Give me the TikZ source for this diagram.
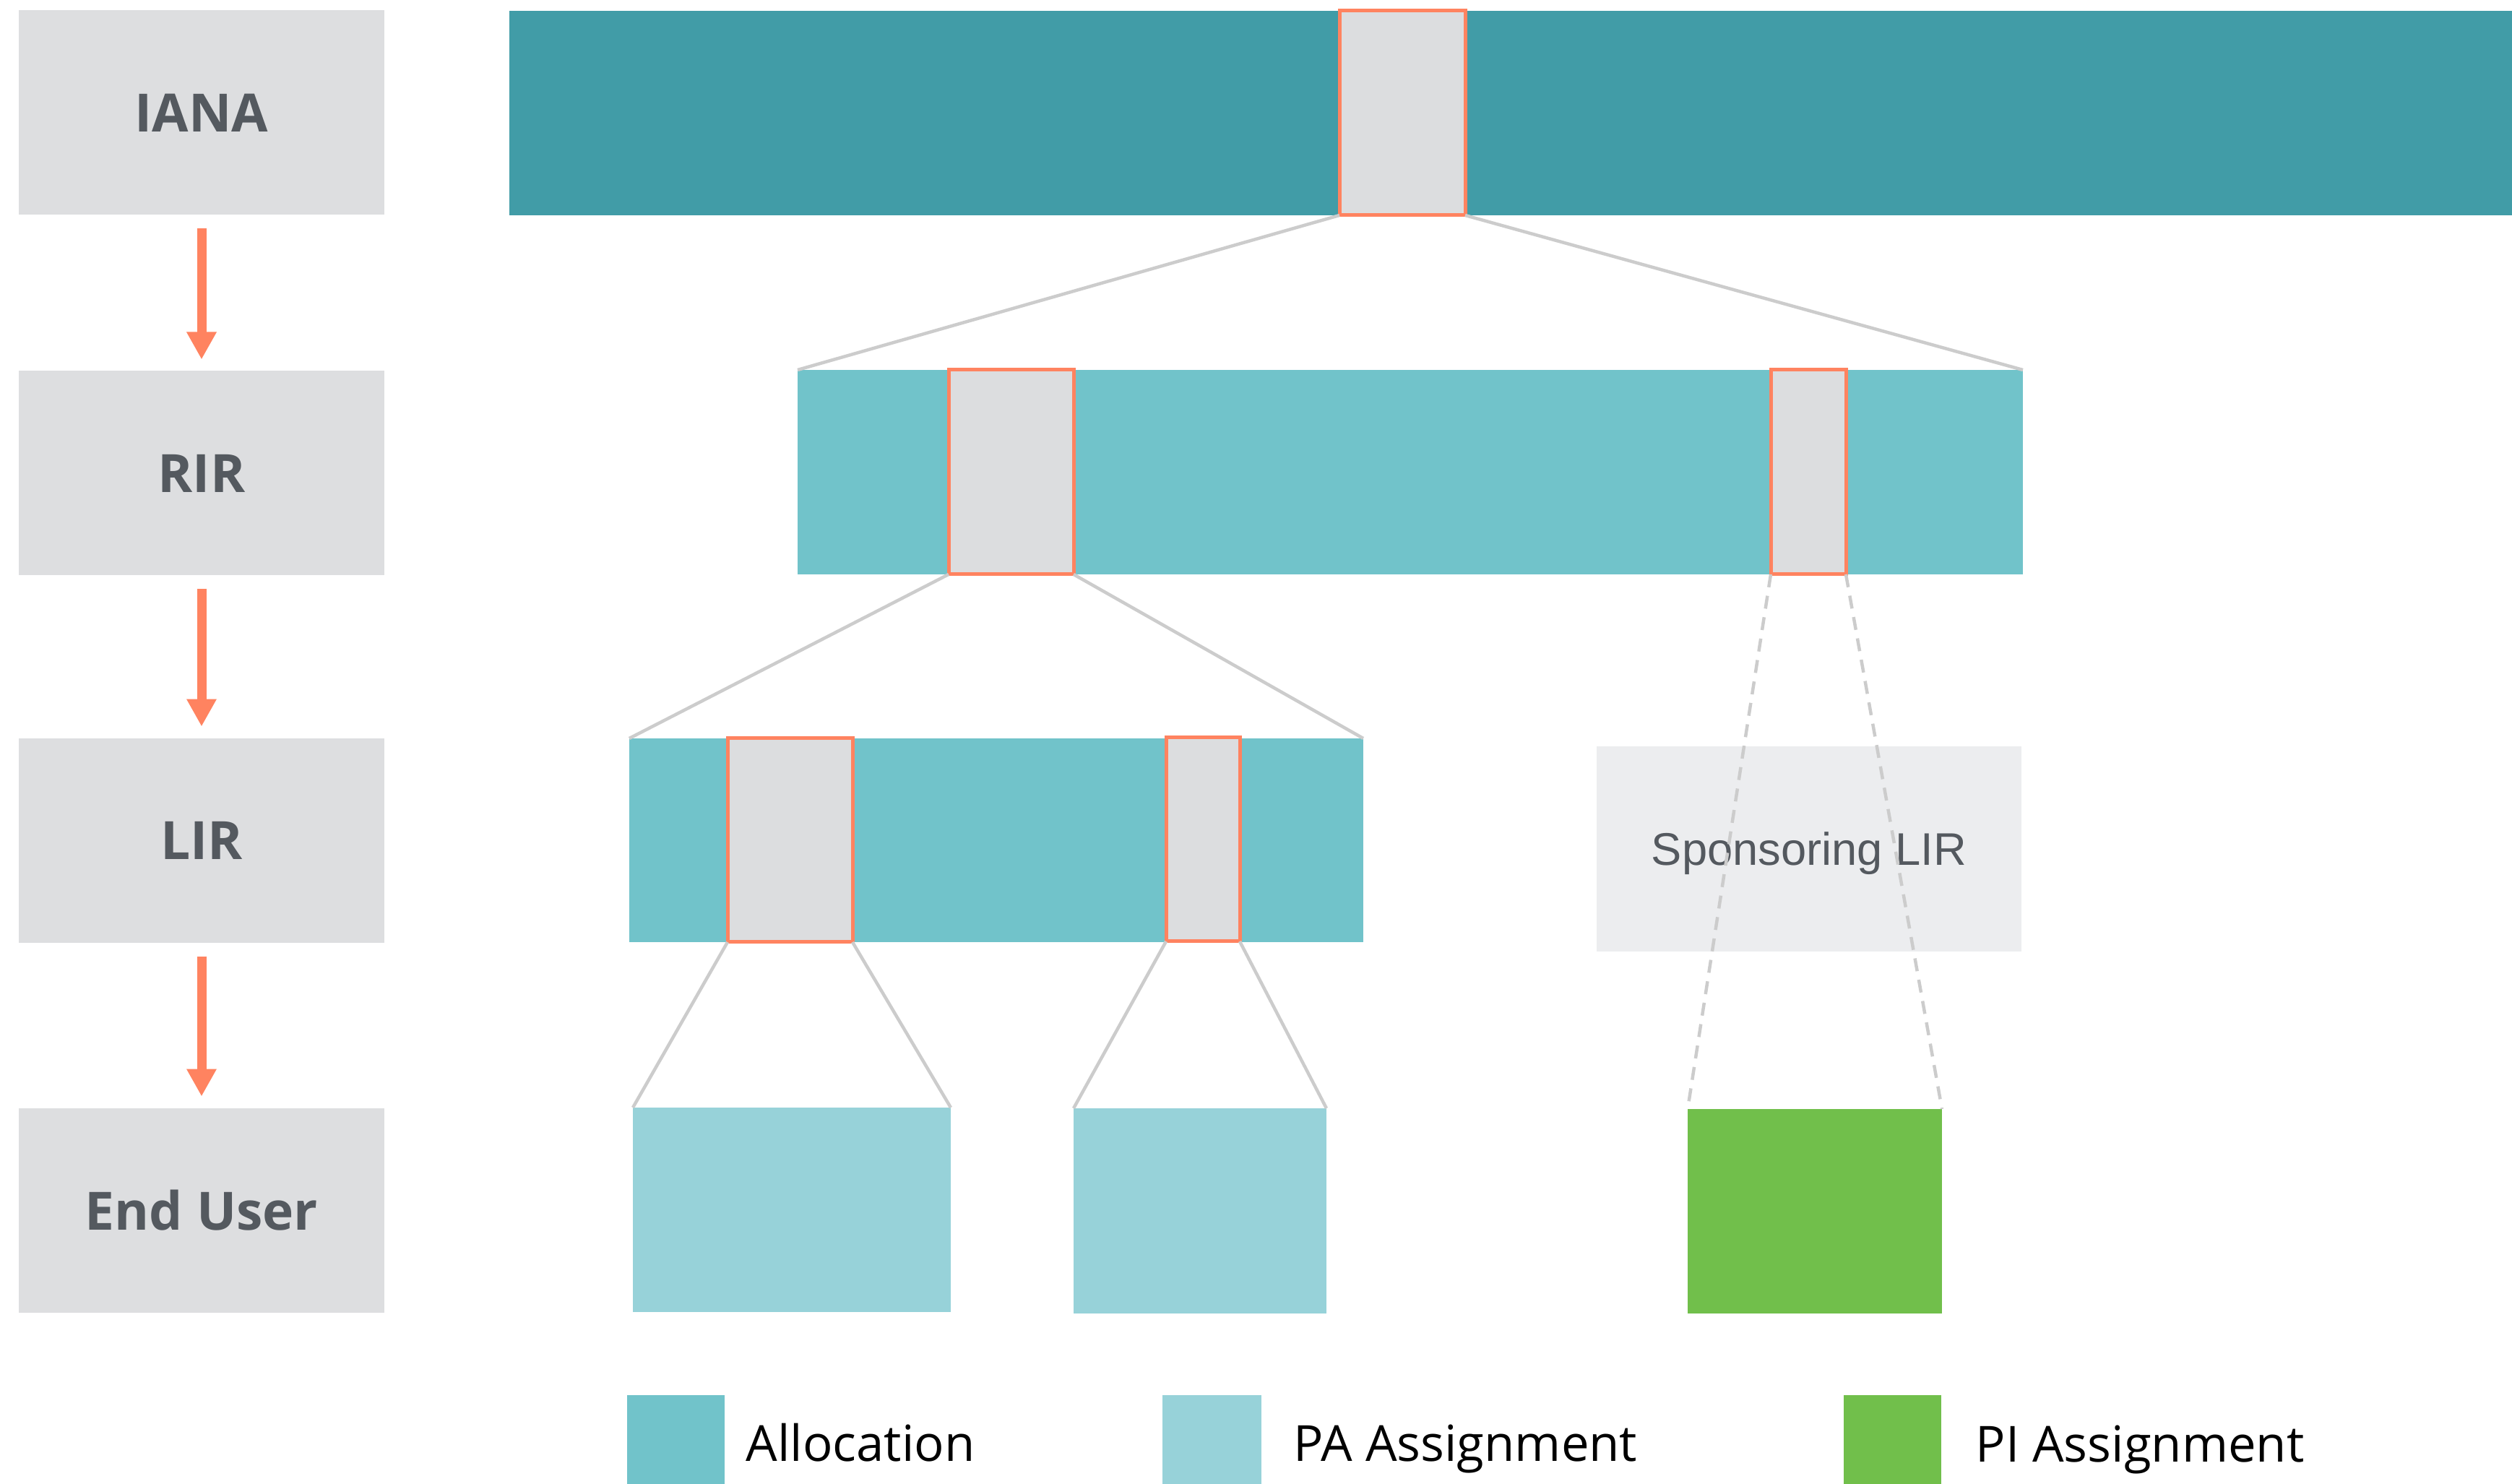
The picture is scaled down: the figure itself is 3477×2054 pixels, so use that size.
\documentclass[tikz,border=0pt]{standalone}
\usepackage{fontspec}
\setmainfont{Open Sans}
\newfontfamily\arialfont{Liberation Sans}
\usetikzlibrary{arrows.meta}
\definecolor{labelgray}{HTML}{DDDEE0}
\definecolor{labeltext}{HTML}{54595F}
\definecolor{ianateal}{HTML}{419CA7}
\definecolor{alloc}{HTML}{71C3CA}
\definecolor{paassign}{HTML}{97D2D9}
\definecolor{piassign}{HTML}{71BF4B}
\definecolor{blockgray}{HTML}{DCDDDF}
\definecolor{hlorange}{HTML}{FF8360}
\definecolor{fangray}{HTML}{CCCCCC}
\definecolor{sponsorgray}{HTML}{ECEDEF}

\begin{document}
\begin{tikzpicture}[x=.1mm, y=-.1mm,
		tier/.style={fill=labelgray, text=labeltext, font=\fontsize{20.8pt}{24pt}\selectfont\bfseries, text depth=0pt, minimum width=50.6mm, minimum height=28.3mm, inner sep=0pt, outer sep=0pt},
		bar/.style={anchor=north west, minimum height=28.3mm, inner sep=0pt, outer sep=0pt},
		pickbox/.style={bar, fill=blockgray, draw=hlorange, line width=.5mm},
		downarrow/.style={draw=hlorange, line width=1.3mm, -{Triangle[width=3.9mm, length=3.8mm]}, shorten <=1.9mm, shorten >=1.6mm},
		fanline/.style={draw=fangray, line width=.45mm},
		legendtext/.style={anchor=base west, inner sep=0pt, font=\fontsize{19.6pt}{24pt}\selectfont}]
				\useasboundingbox (0,0) rectangle (3477,2054);
				\node[tier] (iana) at (279,156) {IANA};
				\node[tier] (rir) at (279,655) {RIR};
				\node[tier] (lir) at (279,1163) {LIR};
				\node[tier] (enduser) at (279,1675) {End User};
				\foreach \a/\b in {iana/rir, rir/lir, lir/enduser}
					\draw[downarrow] (\a) -- (\b);
				\node[bar, fill=ianateal, minimum width=277.2mm] (ianabar) at (705,15) {};
				\node[bar, fill=alloc, minimum width=169.6mm] (rirbar) at (1104,512) {};
				\node[bar, fill=alloc, minimum width=101.6mm, minimum height=28.2mm] (lirbar) at (871,1022) {};
				\node[bar, fill=sponsorgray, text=labeltext, font=\arialfont\fontsize{18pt}{20pt}\selectfont, text depth=0pt, minimum width=58.8mm, minimum height=28.4mm] (sponsor) at (2210,1033) {Sponsoring LIR};
				\node[pickbox, minimum width=17.4mm] (h0) at (1854,15) {};
				\node[pickbox, minimum width=17.3mm] (h1) at (1313,512) {};
				\node[pickbox, minimum width=10.4mm] (h2) at (2451,512) {};
				\node[pickbox, minimum width=17.3mm, minimum height=28.2mm] (h3) at (1007,1022) {};
				\node[pickbox, minimum width=10.2mm, minimum height=28.2mm] (h4) at (1614,1021) {};
				\node[bar, fill=paassign, minimum width=44mm] (pa1) at (876,1533) {};
				\node[bar, fill=paassign, minimum width=35mm, minimum height=28.4mm] (pa2) at (1486,1534) {};
				\node[bar, fill=piassign, minimum width=35.2mm] (pi) at (2336,1535) {};
				\foreach \h/\t in {h0/rirbar, h1/lirbar, h3/pa1, h4/pa2} {
					\draw[fanline] (\h.south west) -- (\t.north west);
					\draw[fanline] (\h.south east) -- (\t.north east);
				}
				\draw[fanline, dash pattern=on 1.8mm off 1.2mm] (h2.south west) -- (pi.north west);
				\draw[fanline, dash pattern=on 1.8mm off 1.2mm] (h2.south east) -- (pi.north east);
				\node[bar, fill=alloc, minimum width=13.5mm, minimum height=13.5mm] (allockey) at (868,1931) {};
				\node[legendtext] (alloctext) at (1032,2022) {Allocation};
				\node[bar, fill=paassign, minimum width=13.7mm, minimum height=13.5mm] (pakey) at (1609,1931) {};
				\node[legendtext] (patext) at (1790,2022) {PA Assignment};
				\node[bar, fill=piassign, minimum width=13.5mm, minimum height=13.5mm] (pikey) at (2552,1931) {};
				\node[legendtext] (pitext) at (2734,2023) {PI Assignment};
			\end{tikzpicture}
\end{document}
